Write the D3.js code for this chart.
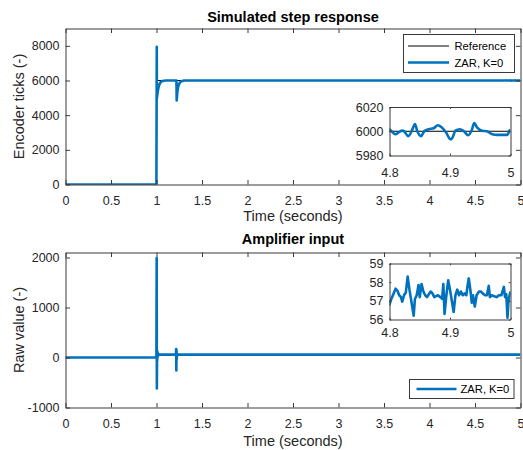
<!DOCTYPE html>
<html>
<head>
<meta charset="utf-8">
<script src="https://cdn.jsdelivr.net/npm/d3@7"></script>
<style>
  body { margin: 0; background: #fff; }
  svg { display: block; font-family: "Liberation Sans", Arial, Helvetica, sans-serif; }
</style>
</head>
<body>
<svg id="fig" width="523" height="450"></svg>
<script>
// Reference command: step to 6000 encoder ticks at t = 1 s
const refTime  = [0, 1, 1, 5];
const refTicks = [0, 0, 6000, 6000];

// Simulated encoder position, ZAR controller with K = 0
const posTime = [0, 0.999, 1.003, 1.004, 1.008, 1.014, 1.022, 1.032, 1.045, 1.06, 1.08, 1.1,
  1.219, 1.222, 1.226, 1.232, 1.24, 1.25, 1.265, 1.285, 1.31, 1.5, 2, 2.5, 3, 3.5, 4, 4.5, 4.795,
  4.800, 4.810, 4.815, 4.821, 4.824, 4.831, 4.838, 4.842, 4.846, 4.852, 4.858, 4.865, 4.873,
  4.880, 4.886, 4.893, 4.901, 4.904, 4.909, 4.916, 4.923, 4.930, 4.936, 4.940, 4.945, 4.953,
  4.961, 4.970, 4.978, 4.989, 4.995, 4.998, 5.000];
const posTicks = [0, 0, 7950, 4950, 5150, 5380, 5600, 5780, 5900, 5960, 5990, 6000,
  6000, 4850, 5150, 5450, 5680, 5830, 5930, 5980, 6000, 6000, 6000, 6000, 6000, 6000, 6000, 6000, 6002,
  6001.5, 5997.5, 5999, 6000.5, 6000, 5996, 6001.7, 6006, 6000, 5996, 6000.3, 6001.7, 6002.5,
  6005, 6003.3, 5999.4, 5993.3, 5994.7, 6000.5, 6001.7, 6000, 5996.7, 6001, 6006.7, 6003, 6000.5,
  6000, 5997.5, 5997, 5997, 5997, 6000.3, 6001];

// Amplifier input (raw value), ZAR controller with K = 0
const ampTime = [0, 0.999, 1.002, 1.004, 1.006, 1.008, 1.011, 1.014, 1.018, 1.025, 1.035,
  1.214, 1.216, 1.218, 1.220, 1.222, 1.226, 1.232, 1.5, 2, 2.5, 3, 3.5, 4, 4.5, 4.795,
  4.800, 4.803, 4.807, 4.810, 4.813, 4.816, 4.819, 4.821, 4.824, 4.827, 4.830, 4.833, 4.836,
  4.840, 4.842, 4.845, 4.848, 4.850, 4.853, 4.856, 4.859, 4.862, 4.865, 4.868, 4.871, 4.874,
  4.877, 4.880, 4.884, 4.887, 4.889, 4.891, 4.894, 4.897, 4.900, 4.903, 4.906, 4.909, 4.912,
  4.915, 4.918, 4.921, 4.924, 4.927, 4.929, 4.931, 4.934, 4.936, 4.938, 4.941, 4.944, 4.948,
  4.951, 4.954, 4.958, 4.961, 4.964, 4.966, 4.969, 4.973, 4.977, 4.981, 4.985, 4.989, 4.991,
  4.993, 4.995, 4.997, 5.000];
const ampValue = [0, 0, 1990, -620, 140, -60, 110, 20, 80, 50, 57,
  57, 170, -260, 150, -40, 80, 57, 57, 57, 57, 57, 57, 57, 57, 57.2,
  56.8, 57.1, 57.4, 57.65, 57.55, 57.3, 57.2, 56.95, 57.3, 57.45, 58.3, 57.6, 57.0,
  56.2, 57.1, 57.3, 57.85, 57.2, 57.9, 57.5, 57.3, 57.2, 57.35, 57.5, 57.4, 57.2,
  57.25, 57.3, 57.2, 57.1, 57.9, 56.3, 57.3, 58.1, 57.6, 57.0, 56.4, 57.3, 57.6,
  57.3, 57.5, 57.3, 57.4, 57.3, 57.8, 58.2, 57.5, 56.9, 57.3, 56.7, 57.3, 57.5,
  57.5, 57.4, 57.3, 57.3, 57.8, 57.2, 57.3, 57.25, 57.2, 57.3, 57.3, 57.75, 57.2,
  57.35, 56.1, 57.1, 57.5];

// Tick values
const timeTicks      = [0, 0.5, 1, 1.5, 2, 2.5, 3, 3.5, 4, 4.5, 5];
const posAxisTicks   = [0, 2000, 4000, 6000, 8000];
const ampAxisTicks   = [-1000, 0, 1000, 2000];
const zoomTimeTicks  = [4.8, 4.9, 5];
const posZoomTicks   = [5980, 6000, 6020];
const ampZoomTicks   = [56, 57, 58, 59];

// Text
const titles  = ["Simulated step response", "Amplifier input"];
const yLabels = ["Encoder ticks (-)", "Raw value (-)"];
const xLabel  = "Time (seconds)";
const names   = ["Reference", "ZAR, K=0"];

const BLUE = "#0072BD", INK = "#262626", FRAME = "#3a3a3a";
const svg = d3.select("#fig");
const defs = svg.append("defs");
let clipId = 0;

function pairs(xs, ys) { return xs.map((v, i) => [v, ys[i]]); }

// Box with inward ticks on all four sides; labels on bottom and left only
function frame(g, x, y, xt, yt, o) {
  const [x0, x1] = x.range(), [yb, yt0] = y.range();
  const style = sel => {
    sel.attr("font-family", null).attr("font-size", null);
    sel.select(".domain").attr("stroke", FRAME).attr("stroke-width", 1);
    sel.selectAll(".tick line").attr("stroke", FRAME).attr("stroke-width", 1);
    sel.selectAll(".tick text").attr("fill", INK).style("font-size", o.fs + "px");
  };
  g.append("g").attr("transform", `translate(0,${yb})`)
    .call(d3.axisBottom(x).tickValues(xt).tickFormat(String).tickSizeInner(-o.tl).tickSizeOuter(0).tickPadding(o.xpad))
    .call(style);
  g.append("g").attr("transform", `translate(0,${yt0})`)
    .call(d3.axisTop(x).tickValues(xt).tickFormat("").tickSizeInner(-o.tl).tickSizeOuter(0))
    .call(style);
  g.append("g").attr("transform", `translate(${x0},0)`)
    .call(d3.axisLeft(y).tickValues(yt).tickFormat(String).tickSizeInner(-o.tl).tickSizeOuter(0).tickPadding(o.ypad))
    .call(style);
  g.append("g").attr("transform", `translate(${x1},0)`)
    .call(d3.axisRight(y).tickValues(yt).tickFormat("").tickSizeInner(-o.tl).tickSizeOuter(0))
    .call(style);
}

function clipFor(x, y) {
  const id = "clip" + (clipId++);
  const [x0, x1] = x.range(), [yb, yt] = y.range();
  defs.append("clipPath").attr("id", id).append("rect")
    .attr("x", x0).attr("y", yt).attr("width", x1 - x0).attr("height", yb - yt);
  return `url(#${id})`;
}

function drawLine(g, x, y, s, clip) {
  const line = d3.line().x(d => x(d[0])).y(d => y(d[1])).curve(s.curve || d3.curveLinear);
  g.append("path").attr("clip-path", clip).attr("d", line(s.data))
    .attr("fill", "none").attr("stroke", s.color).attr("stroke-width", s.width)
    .attr("stroke-linejoin", "round").attr("stroke-linecap", "butt");
}

function panel(cfg) {
  const g = svg.append("g");
  const x = d3.scaleLinear().domain([0, 5]).range([65.5, 520.5]);
  const y = d3.scaleLinear().domain(cfg.yDomain).range([cfg.bottom, cfg.top]);
  g.append("rect").attr("x", 65.5).attr("y", cfg.top).attr("width", 455).attr("height", cfg.bottom - cfg.top).attr("fill", "#fff");
  const clip = clipFor(x, y);
  cfg.series.forEach(s => drawLine(g, x, y, s, clip));
  frame(g, x, y, timeTicks, cfg.yTicks, { tl: 4.5, fs: 12.5, xpad: 12, ypad: 6 });

  g.append("text").attr("x", 293).attr("y", cfg.titleY).attr("text-anchor", "middle")
    .attr("font-weight", "bold").attr("font-size", 14.5).attr("fill", "#000").text(cfg.title);
  g.append("text").attr("x", 293).attr("y", cfg.xLabelY).attr("text-anchor", "middle")
    .attr("font-size", 14.5).attr("fill", INK).text(xLabel);
  g.append("text").attr("transform", `translate(24,${(cfg.top + cfg.bottom) / 2}) rotate(-90)`)
    .attr("text-anchor", "middle").attr("font-size", 14.5).attr("fill", INK).text(cfg.yLabel);

  // zoomed inset over the last 0.2 s
  const z = cfg.inset;
  const xi = d3.scaleLinear().domain([4.8, 5]).range([z.left, z.right]);
  const yi = d3.scaleLinear().domain(z.yDomain).range([z.bottom, z.top]);
  g.append("rect").attr("x", z.left).attr("y", z.top).attr("width", z.right - z.left)
    .attr("height", z.bottom - z.top).attr("fill", "#fff");
  const clipI = clipFor(xi, yi);
  z.series.forEach(s => drawLine(g, xi, yi, s, clipI));
  frame(g, xi, yi, zoomTimeTicks, z.yTicks, { tl: 1.8, fs: 12.5, xpad: z.xpad, ypad: 6 });

  // legend
  const L = cfg.legend;
  const lg = g.append("g");
  lg.append("rect").attr("x", L.x).attr("y", L.y).attr("width", L.w).attr("height", L.h)
    .attr("fill", "#fff").attr("stroke", FRAME).attr("stroke-width", 1);
  L.items.forEach((it, i) => {
    const cy = L.y + L.first + i * L.step;
    lg.append("line").attr("x1", L.lx0).attr("x2", L.lx1).attr("y1", cy).attr("y2", cy)
      .attr("stroke", it.color).attr("stroke-width", it.width);
    lg.append("text").attr("x", L.tx).attr("y", cy + 4).attr("font-size", 11.2)
      .attr("fill", "#000").text(it.name);
  });
}

panel({
  top: 28.5, bottom: 184.5, yDomain: [0, 9000], yTicks: posAxisTicks,
  title: titles[0], titleY: 22, xLabelY: 221, yLabel: yLabels[0],
  series: [
    { data: pairs(refTime, refTicks), color: "#000", width: 1 },
    { data: pairs(posTime, posTicks), color: BLUE, width: 2.6 }
  ],
  inset: {
    left: 389.5, right: 510.5, top: 107, bottom: 155.5, yDomain: [5980, 6020], yTicks: posZoomTicks, xpad: 12.5,
    series: [
      { data: pairs(refTime, refTicks), color: "#000", width: 1 },
      { data: pairs(posTime, posTicks), color: BLUE, width: 2.6, curve: d3.curveMonotoneX }
    ]
  },
  legend: {
    x: 403.5, y: 34.5, w: 111, h: 38, first: 11.5, step: 16.5, lx0: 408, lx1: 449, tx: 454.5,
    items: [
      { name: names[0], color: "#000", width: 1 },
      { name: names[1], color: BLUE, width: 2.6 }
    ]
  }
});

panel({
  top: 252.5, bottom: 407.5, yDomain: [-1000, 2100], yTicks: ampAxisTicks,
  title: titles[1], titleY: 244, xLabelY: 446, yLabel: yLabels[1],
  series: [
    { data: pairs(ampTime, ampValue), color: BLUE, width: 2.6 }
  ],
  inset: {
    left: 389.5, right: 510.5, top: 263.5, bottom: 319.5, yDomain: [56, 59], yTicks: ampZoomTicks, xpad: 8.5,
    series: [
      { data: pairs(ampTime, ampValue), color: BLUE, width: 2.6 }
    ]
  },
  legend: {
    x: 409.5, y: 379.5, w: 104.5, h: 19, first: 9.5, step: 0, lx0: 416.5, lx1: 456.5, tx: 460.5,
    items: [
      { name: names[1], color: BLUE, width: 2.6 }
    ]
  }
});
</script>
</body>
</html>
